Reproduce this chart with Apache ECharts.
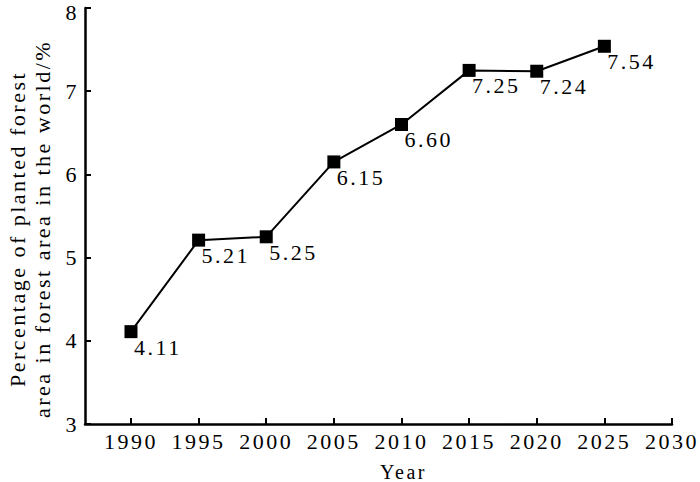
<!DOCTYPE html>
<html>
<head>
<meta charset="utf-8">
<title>Planted forest share</title>
<script src="https://cdn.jsdelivr.net/npm/echarts@6/dist/echarts.min.js"></script>
<style>
  html, body { margin: 0; padding: 0; background: #fff; }
  #chart { width: 700px; height: 482px; }
  /* the source figure has loosely tracked serif text */
  #chart text { letter-spacing: 2.5px; }
</style>
</head>
<body>
<div id="chart"></div>
<script>
// data
const years = [1990, 1995, 2000, 2005, 2010, 2015, 2020, 2025];
const share = [4.11, 5.21, 5.25, 6.15, 6.60, 7.25, 7.24, 7.54];
const yearTicks = [1990, 1995, 2000, 2005, 2010, 2015, 2020, 2025, 2030];

const font = '"Liberation Serif", "Times New Roman", serif';
const chart = echarts.init(document.getElementById('chart'), null, { renderer: 'svg' });

const option = {
  animation: false,
  backgroundColor: '#fff',
  grid: { left: 85, right: 28, top: 8, bottom: 58, outerBoundsMode: 'none' },
  xAxis: {
    type: 'value',
    min: 1986.6,
    max: 2030,
    name: 'Year',
    nameLocation: 'middle',
    nameGap: 38,
    nameTextStyle: { fontFamily: font, fontSize: 20, color: '#000', padding: [0, 0, 0, 50] },
    axisLine: { lineStyle: { color: '#000', width: 2.5 } },
    axisTick: { inside: true, length: 6, customValues: yearTicks, lineStyle: { color: '#000', width: 2 } },
    axisLabel: {
      customValues: yearTicks,
      formatter: v => String(v),
      fontFamily: font, fontSize: 22, color: '#000', margin: 6
    },
    splitLine: { show: false }
  },
  yAxis: {
    type: 'value',
    min: 3,
    max: 8,
    interval: 1,
    name: 'Percentage of planted forest\narea in forest area in the world/%',
    nameLocation: 'middle',
    nameRotate: 90,
    nameGap: 30,
    nameTextStyle: { fontFamily: font, fontSize: 22, color: '#000', lineHeight: 25, padding: [0, 26, 0, 0] },
    axisLine: { show: true, lineStyle: { color: '#000', width: 2.5 } },
    axisTick: { show: true, inside: true, length: 6, lineStyle: { color: '#000', width: 2 } },
    axisLabel: {
      // top label sits a little lower so it stays on the page
      formatter: v => v === 8 ? '{t|8}' : String(v),
      rich: { t: { fontFamily: font, fontSize: 22, color: '#000', padding: [9, 0, 0, 0] } },
      fontFamily: font, fontSize: 22, color: '#000', margin: 6
    },
    splitLine: { show: false }
  },
  series: [{
    type: 'line',
    data: years.map((y, i) => [y, share[i]]),
    symbol: 'rect',
    symbolSize: 13,
    lineStyle: { color: '#000', width: 2 },
    itemStyle: { color: '#000' },
    label: {
      show: true,
      position: 'bottom',
      distance: 0,
      align: 'left',
      offset: [3, -2],
      fontFamily: font,
      fontSize: 22,
      color: '#000',
      formatter: p => p.value[1].toFixed(2)
    }
  }]
};

chart.setOption(option);
</script>
</body>
</html>
